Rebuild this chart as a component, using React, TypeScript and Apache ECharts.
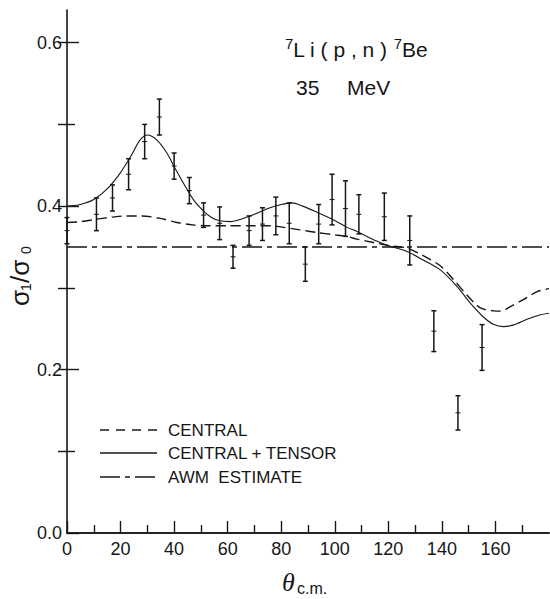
import React, { useEffect, useRef } from 'react';
import * as echarts from 'echarts';

// Measured data points (theta c.m. in degrees, sigma1/sigma0, error)
const thetaData = [0, 11, 17, 23, 29, 34.5, 40, 45.7, 51, 57, 62, 68, 73, 78, 83, 89, 94, 99, 104, 109, 118.5, 128, 137, 146, 155];
const ratioData = [0.37, 0.39, 0.41, 0.439, 0.479, 0.509, 0.449, 0.419, 0.389, 0.379, 0.338, 0.37, 0.378, 0.388, 0.379, 0.329, 0.378, 0.408, 0.397, 0.39, 0.387, 0.358, 0.247, 0.147, 0.227];
const errorData = [0.016, 0.02, 0.016, 0.019, 0.021, 0.022, 0.016, 0.016, 0.015, 0.02, 0.014, 0.018, 0.02, 0.023, 0.025, 0.021, 0.024, 0.031, 0.034, 0.024, 0.029, 0.03, 0.025, 0.021, 0.028];

// CENTRAL (dashed) curve
const centralTheta = [0, 5, 11, 17, 22, 28, 34.8, 41, 47, 52, 60, 70, 76, 81, 87, 93.3, 99.6, 104.6, 108.3, 114.5, 120.7, 127, 133.2, 139.4, 144.4, 149.4, 154.4, 159.4, 162, 165.6, 170.6, 175.6, 180];
const centralValue = [0.38, 0.381, 0.384, 0.3866, 0.388, 0.388, 0.385, 0.38, 0.377, 0.376, 0.376, 0.376, 0.376, 0.374, 0.371, 0.3677, 0.365, 0.3628, 0.3596, 0.3555, 0.3514, 0.3486, 0.339, 0.327, 0.31, 0.291, 0.2755, 0.2718, 0.2715, 0.277, 0.286, 0.2955, 0.299];

// CENTRAL + TENSOR (solid) curve
const tensorTheta = [0, 5, 10, 15, 20, 24, 27.3, 30, 33.5, 37.3, 40.4, 43.5, 47.2, 51, 54, 57, 61, 65, 70, 75, 80, 84, 88, 93, 99.6, 104.6, 108.3, 114.5, 120.7, 127, 133, 139.4, 145.7, 150.7, 155.6, 159.4, 163, 166.8, 171.8, 176.8, 180];
const tensorValue = [0.4, 0.402, 0.408, 0.421, 0.441, 0.462, 0.481, 0.487, 0.481, 0.465, 0.446, 0.428, 0.408, 0.394, 0.386, 0.382, 0.381, 0.384, 0.39, 0.397, 0.402, 0.404, 0.4, 0.393, 0.383, 0.374, 0.369, 0.359, 0.351, 0.3445, 0.334, 0.322, 0.3016, 0.281, 0.264, 0.255, 0.2526, 0.2547, 0.2616, 0.267, 0.269];

// AWM estimate (constant)
const awmTheta = [0, 180];
const awmValue = [0.35, 0.35];

const xMajorTicks = [0, 20, 40, 60, 80, 100, 120, 140, 160];
const xMinorTicks = [10, 30, 50, 70, 90, 110, 130, 150, 170];
const yMajorTicks = [0, 0.2, 0.4, 0.6];
const yMinorTicks = [0.1, 0.3, 0.5];
const yRightTicks = [0.1, 0.2, 0.3, 0.4, 0.5, 0.6];

const INK = '#161616';
const SANS = '"Liberation Sans", Arial, sans-serif';

export default function App() {
  const ref = useRef<HTMLDivElement>(null);
  useEffect(() => {
    if (!ref.current) return;
    const chart = echarts.init(ref.current, null, { renderer: 'svg' });
    const pts = thetaData.map((t, i) => [t, ratioData[i], errorData[i]]);
    const central = centralTheta.map((t, i) => [t, centralValue[i]]);
    const tensor = tensorTheta.map((t, i) => [t, tensorValue[i]]);
    const awm = awmTheta.map((t, i) => [t, awmValue[i]]);

    const baseX = {
      type: 'value' as const,
      min: 0,
      max: 180,
      splitLine: { show: false },
    };
    const baseY = {
      type: 'value' as const,
      min: 0,
      max: 0.64,
      splitLine: { show: false },
    };

    chart.setOption({
      animation: false,
      backgroundColor: '#ffffff',
      grid: { left: 67, top: 10, width: 482, height: 523, containLabel: false },
      xAxis: [
        {
          ...baseX,
          position: 'bottom',
          axisLine: { show: true, lineStyle: { color: INK, width: 1.6 } },
          axisTick: { show: true, inside: true, length: 12, customValues: xMajorTicks, lineStyle: { color: INK, width: 1.4 } },
          axisLabel: { show: true, customValues: xMajorTicks, margin: 7, color: INK, fontFamily: SANS, fontSize: 18 },
        },
        {
          ...baseX,
          position: 'bottom',
          axisLine: { show: false },
          axisTick: { show: true, inside: true, length: 8, customValues: xMinorTicks, lineStyle: { color: INK, width: 1.4 } },
          axisLabel: { show: false },
        },
        {
          ...baseX,
          position: 'top',
          axisLine: { show: true, lineStyle: { color: INK, width: 1.6 } },
          axisTick: { show: false },
          axisLabel: { show: false },
        },
      ],
      yAxis: [
        {
          ...baseY,
          position: 'left',
          axisLine: { show: true, lineStyle: { color: INK, width: 1.6 } },
          axisTick: { show: true, inside: true, length: 12, customValues: yMajorTicks, lineStyle: { color: INK, width: 1.4 } },
          axisLabel: { show: true, customValues: yMajorTicks, margin: 5, color: INK, fontFamily: SANS, fontSize: 18, formatter: (v: number) => v.toFixed(1) },
        },
        {
          ...baseY,
          position: 'left',
          axisLine: { show: false },
          axisTick: { show: true, inside: true, length: 8, customValues: yMinorTicks, lineStyle: { color: INK, width: 1.4 } },
          axisLabel: { show: false },
        },
        {
          ...baseY,
          position: 'right',
          axisLine: { show: false },
          axisTick: { show: true, inside: true, length: 9, customValues: yRightTicks, lineStyle: { color: INK, width: 1.4 } },
          axisLabel: { show: false },
        },
      ],
      series: [
        {
          name: 'AWM ESTIMATE',
          type: 'line',
          data: awm,
          showSymbol: false,
          symbol: 'none',
          lineStyle: { color: INK, width: 1.5, type: [20, 5, 5, 5] },
          silent: true,
        },
        {
          name: 'CENTRAL',
          type: 'line',
          data: central,
          showSymbol: false,
          symbol: 'none',
          smooth: 0.3,
          lineStyle: { color: INK, width: 1.4, type: [10, 5] },
          silent: true,
        },
        {
          name: 'CENTRAL + TENSOR',
          type: 'line',
          data: tensor,
          showSymbol: false,
          symbol: 'none',
          smooth: 0.3,
          lineStyle: { color: INK, width: 1.1 },
          silent: true,
        },
        {
          name: 'data',
          type: 'custom',
          data: pts,
          silent: true,
          renderItem: (_params: any, api: any) => {
            const x = api.value(0);
            const y = api.value(1);
            const e = api.value(2);
            const c = api.coord([x, y]);
            const hi = api.coord([x, y + e]);
            const lo = api.coord([x, y - e]);
            const cap = 2.5;
            const st = { stroke: INK, lineWidth: 1.5 };
            return {
              type: 'group',
              children: [
                { type: 'line', shape: { x1: c[0], y1: hi[1], x2: c[0], y2: lo[1] }, style: st },
                { type: 'line', shape: { x1: c[0] - cap, y1: hi[1], x2: c[0] + cap, y2: hi[1] }, style: st },
                { type: 'line', shape: { x1: c[0] - cap, y1: lo[1], x2: c[0] + cap, y2: lo[1] }, style: st },
                { type: 'line', shape: { x1: c[0] - 2.5, y1: c[1], x2: c[0] + 2.5, y2: c[1] }, style: { stroke: INK, lineWidth: 1 } },
              ],
            };
          },
        },
      ],
      graphic: [
        {
          type: 'text',
          left: 285,
          top: 36,
          style: {
            text: '{s|7}{m|L i ( p , n ) }{s|7}{m|Be}',
            rich: {
              s: { fontFamily: SANS, fontSize: 15, fill: INK, verticalAlign: 'top', lineHeight: 16 },
              m: { fontFamily: SANS, fontSize: 21, fill: INK, lineHeight: 26 },
            },
            fill: INK,
          },
        },
        { type: 'text', x: 296, y: 87, style: { text: '35', fontFamily: SANS, fontSize: 21, fill: INK, verticalAlign: 'middle' } },
        { type: 'text', x: 347, y: 87, style: { text: 'MeV', fontFamily: SANS, fontSize: 21, fill: INK, verticalAlign: 'middle' } },
        // legend
        { type: 'line', shape: { x1: 100, y1: 430, x2: 157, y2: 430 }, style: { stroke: INK, lineWidth: 1.3, lineDash: [9, 7] } },
        { type: 'text', x: 168, y: 430, style: { text: 'CENTRAL', fontFamily: SANS, fontSize: 17, fill: INK, verticalAlign: 'middle' } },
        { type: 'line', shape: { x1: 100, y1: 453, x2: 157, y2: 453 }, style: { stroke: INK, lineWidth: 1.3 } },
        { type: 'text', x: 168, y: 453, style: { text: 'CENTRAL + TENSOR', fontFamily: SANS, fontSize: 17, fill: INK, verticalAlign: 'middle' } },
        { type: 'line', shape: { x1: 100, y1: 477, x2: 157, y2: 477 }, style: { stroke: INK, lineWidth: 1.3, lineDash: [20, 5, 5, 5] } },
        { type: 'text', x: 168, y: 477, style: { text: 'AWM  ESTIMATE', fontFamily: SANS, fontSize: 17, fill: INK, verticalAlign: 'middle' } },
        // y axis title (rotated)
        {
          type: 'group',
          x: 20,
          y: 306,
          rotation: Math.PI / 2,
          children: [
            { type: 'text', x: 0, y: 0, style: { text: 'σ', fontFamily: SANS, fontSize: 26, fill: INK, verticalAlign: 'middle' } },
            { type: 'text', x: 15, y: 6, style: { text: '1', fontFamily: SANS, fontSize: 14, fill: INK, verticalAlign: 'middle' } },
            { type: 'text', x: 23, y: 0, style: { text: '/σ', fontFamily: SANS, fontSize: 26, fill: INK, verticalAlign: 'middle' } },
            { type: 'text', x: 52, y: 6, style: { text: '0', fontFamily: SANS, fontSize: 14, fill: INK, verticalAlign: 'middle' } },
          ],
        },
        // x axis title
        { type: 'text', x: 282, y: 582, style: { text: 'θ', fontFamily: '"Liberation Serif", serif', fontStyle: 'italic', fontSize: 26, fill: INK, verticalAlign: 'middle' } },
        { type: 'text', x: 297, y: 588, style: { text: 'c.m.', fontFamily: SANS, fontSize: 16, fill: INK, verticalAlign: 'middle' } },
      ],
    });
    return () => chart.dispose();
  }, []);
  return <div ref={ref} style={{ position: 'fixed', left: 0, top: 0, width: 550, height: 599, background: '#fff' }} />;
}
